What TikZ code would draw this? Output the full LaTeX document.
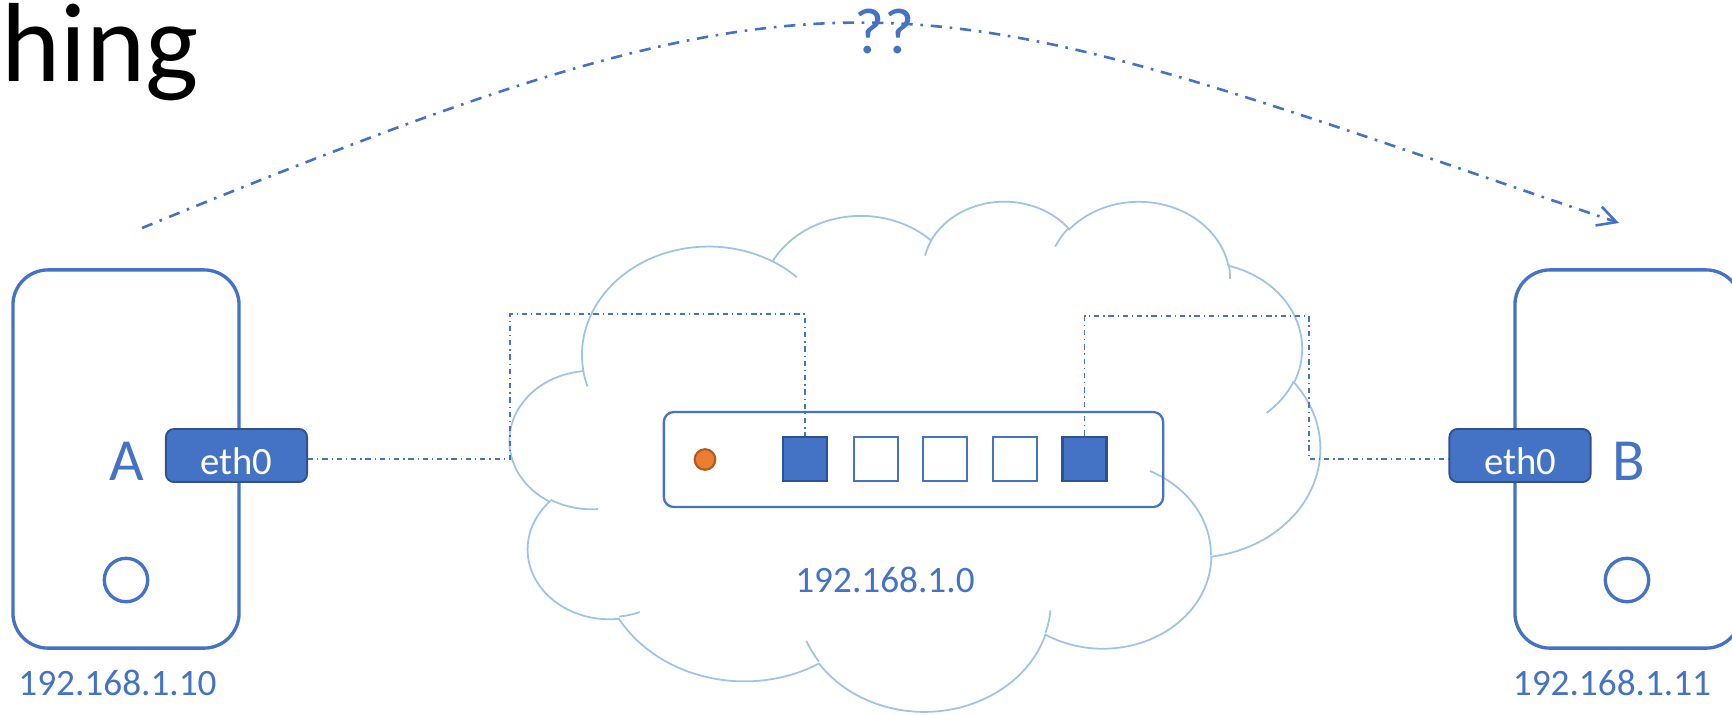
\documentclass[tikz,border=0pt]{standalone}
\usepackage{fontspec}
\setmainfont{Carlito}
\usetikzlibrary{arrows.meta}
\definecolor{accent}{HTML}{4472C4}
\definecolor{accentdark}{HTML}{2F528F}
\definecolor{cloudline}{HTML}{9DC3E6}
\definecolor{ledfill}{HTML}{ED7D31}
\definecolor{ledline}{HTML}{AE5A21}
\begin{document}
\begin{tikzpicture}[x=0.01cm,y=-0.01cm,
    host/.style={draw=accent,line width=0.95pt,rounded corners=0.35cm,minimum width=2.26cm,minimum height=3.78cm,inner sep=0},
    nic/.style={draw=accentdark,fill=accent,line width=0.55pt,rounded corners=0.08cm,minimum width=1.41cm,minimum height=0.53cm,inner sep=0,text=white,font=\fontsize{11}{13}\selectfont,text height=11pt,text depth=0pt},
    port/.style={draw=accent,fill=white,line width=0.6pt,minimum width=0.44cm,minimum height=0.44cm,inner sep=0},
    porton/.style={port,draw=accentdark,fill=accent,line width=0.8pt},
    knob/.style={circle,draw=accent,line width=0.95pt,minimum size=0.434cm,inner sep=0},
    link/.style={accent,line width=0.38pt,dash pattern=on 1.5pt off 1.1pt on 0.38pt off 1.1pt},
    guess/.style={accent,line width=0.74pt,dash pattern=on 3.2pt off 2.2pt on 0.75pt off 2.2pt,-{Straight Barb[length=5.3pt,width=5.6pt]}},
    bluetext/.style={text=accent,inner sep=0,anchor=base},
    ip/.style={bluetext,font=\fontsize{10.6}{12}\selectfont}]
    \useasboundingbox (0,0) rectangle (1732,714);
    \clip (0,0) rectangle (1732,714);
    %% Title (cut off)
    \node[anchor=base west,inner sep=0,font=\fontsize{32}{38}\selectfont] (title) at (1,81) {hing};
    %% Cloud
    \begin{scope}[shift={(510,200)},xscale=1.875,yscale=1.1806,cloudline,line width=0.5pt]
        \draw (39,143.7) arc[start angle=-187.75,end angle=-59.64,x radius=67.53,y radius=91.9]
            arc[start angle=-152.02,end angle=-45.43,x radius=53.33,y radius=72.67]
            arc[start angle=-153.49,end angle=-37.33,x radius=43.65,y radius=59.45]
            arc[start angle=-139.72,end angle=-10.22,x radius=48.57,y radius=65.95]
            arc[start angle=-74.77,end angle=23.21,x radius=53.33,y radius=72.73]
            arc[start angle=-37.54,end angle=81.86,x radius=67.75,y radius=92.2]
            arc[start angle=0.46,end angle=121.98,x radius=57.85,y radius=78.67]
            arc[start angle=16.85,end angle=146.23,x radius=67.52,y radius=92.15]
            arc[start angle=58.98,end angle=150.2,x radius=77.2,y radius=105.43]
            arc[start angle=83.31,end angle=223.12,x radius=43.6,y radius=59.18]
            arc[start angle=120.36,end angle=264.11,x radius=43.45,y radius=59.45] -- cycle;
        %% inner strokes
        \draw (46.93,261.77) arc[start angle=85.54,end angle=120.36,x radius=43.45,y radius=59.45];
        \draw (69.28,348.99) arc[start angle=68.24,end angle=83.31,x radius=43.6,y radius=59.18];
        \draw (164.78,390.9) arc[start angle=146.23,end angle=158.47,x radius=67.52,y radius=92.15];
        \draw (288.27,347.51) arc[start angle=4.74,end angle=16.85,x radius=67.52,y radius=92.15];
        \draw (341.29,229.54) arc[start angle=-64.03,end angle=0.46,x radius=57.85,y radius=78.67];
        \draw (417.98,153.54) arc[start angle=23.21,end angle=49.65,x radius=53.33,y radius=72.73];
        \draw (383.24,54.26) arc[start angle=-10.22,end angle=0.83,x radius=48.57,y radius=65.95];
        \draw (290.78,39.52) arc[start angle=-156.29,end angle=-139.72,x radius=48.57,y radius=65.95];
        \draw (221.41,47.2) arc[start angle=-167.72,end angle=-153.49,x radius=43.65,y radius=59.45];
        \draw (140,51.92) arc[start angle=-59.64,end angle=-45.74,x radius=67.53,y radius=91.9];
        \draw (41.27,157.89) arc[start angle=163.19,end angle=172.25,x radius=67.53,y radius=91.9];
    \end{scope}
    %% Hosts
    \node[host] (hostA) at (126,459) {};
    \node[host] (hostB) at (1628,459) {};
    \node[bluetext,font=\fontsize{17}{20}\selectfont] (nameA) at (127,480) {A};
    \node[bluetext,font=\fontsize{17}{20}\selectfont] (nameB) at (1628.5,480) {B};
    \node[knob] (knobA) at (126,580) {};
    \node[knob] (knobB) at (1627,580) {};
    \node[ip] (ipA) at (117.5,695) {192.168.1.10};
    \node[ip] (ipB) at (1612,695) {192.168.1.11};
    %% Switch
    \node[draw=accent,line width=0.65pt,rounded corners=0.1cm,minimum width=4.99cm,minimum height=0.95cm,inner sep=0] (switch) at (913.5,459.5) {};
    \node[circle,draw=ledline,fill=ledfill,line width=0.6pt,minimum size=0.206cm,inner sep=0] (led) at (705,459.5) {};
    \node[porton] (port1) at (805,459) {};
    \node[port] (port2) at (876,459) {};
    \node[port] (port3) at (945,459) {};
    \node[port] (port4) at (1014.6,459) {};
    \node[porton] (port5) at (1084.5,459) {};
    \node[ip] (ipNet) at (885,592) {192.168.1.0};
    %% Cables
    \coordinate (bendA) at (510,314);
    \coordinate (bendB) at (1309,316);
    \node[nic] (ethA) at (236.5,455.5) {eth0};
    \node[nic] (ethB) at (1520,455.5) {eth0};
    \draw[link] ([yshift=-0.035cm]ethA.east) -| (bendA) -| (port1.north);
    \draw[link] (port5.north) |- (bendB) |- ([yshift=-0.035cm]ethB.west);
    %% Path in question
    \coordinate (fromA) at (142,228);
    \coordinate (toB) at (1619,223);
    \draw[guess] (fromA) .. controls (862,-67) and (899,-22) .. (toB);
    \node[bluetext,font=\fontsize{18.5}{22}\selectfont] (query) at (885,53) {??};
\end{tikzpicture}
\end{document}
